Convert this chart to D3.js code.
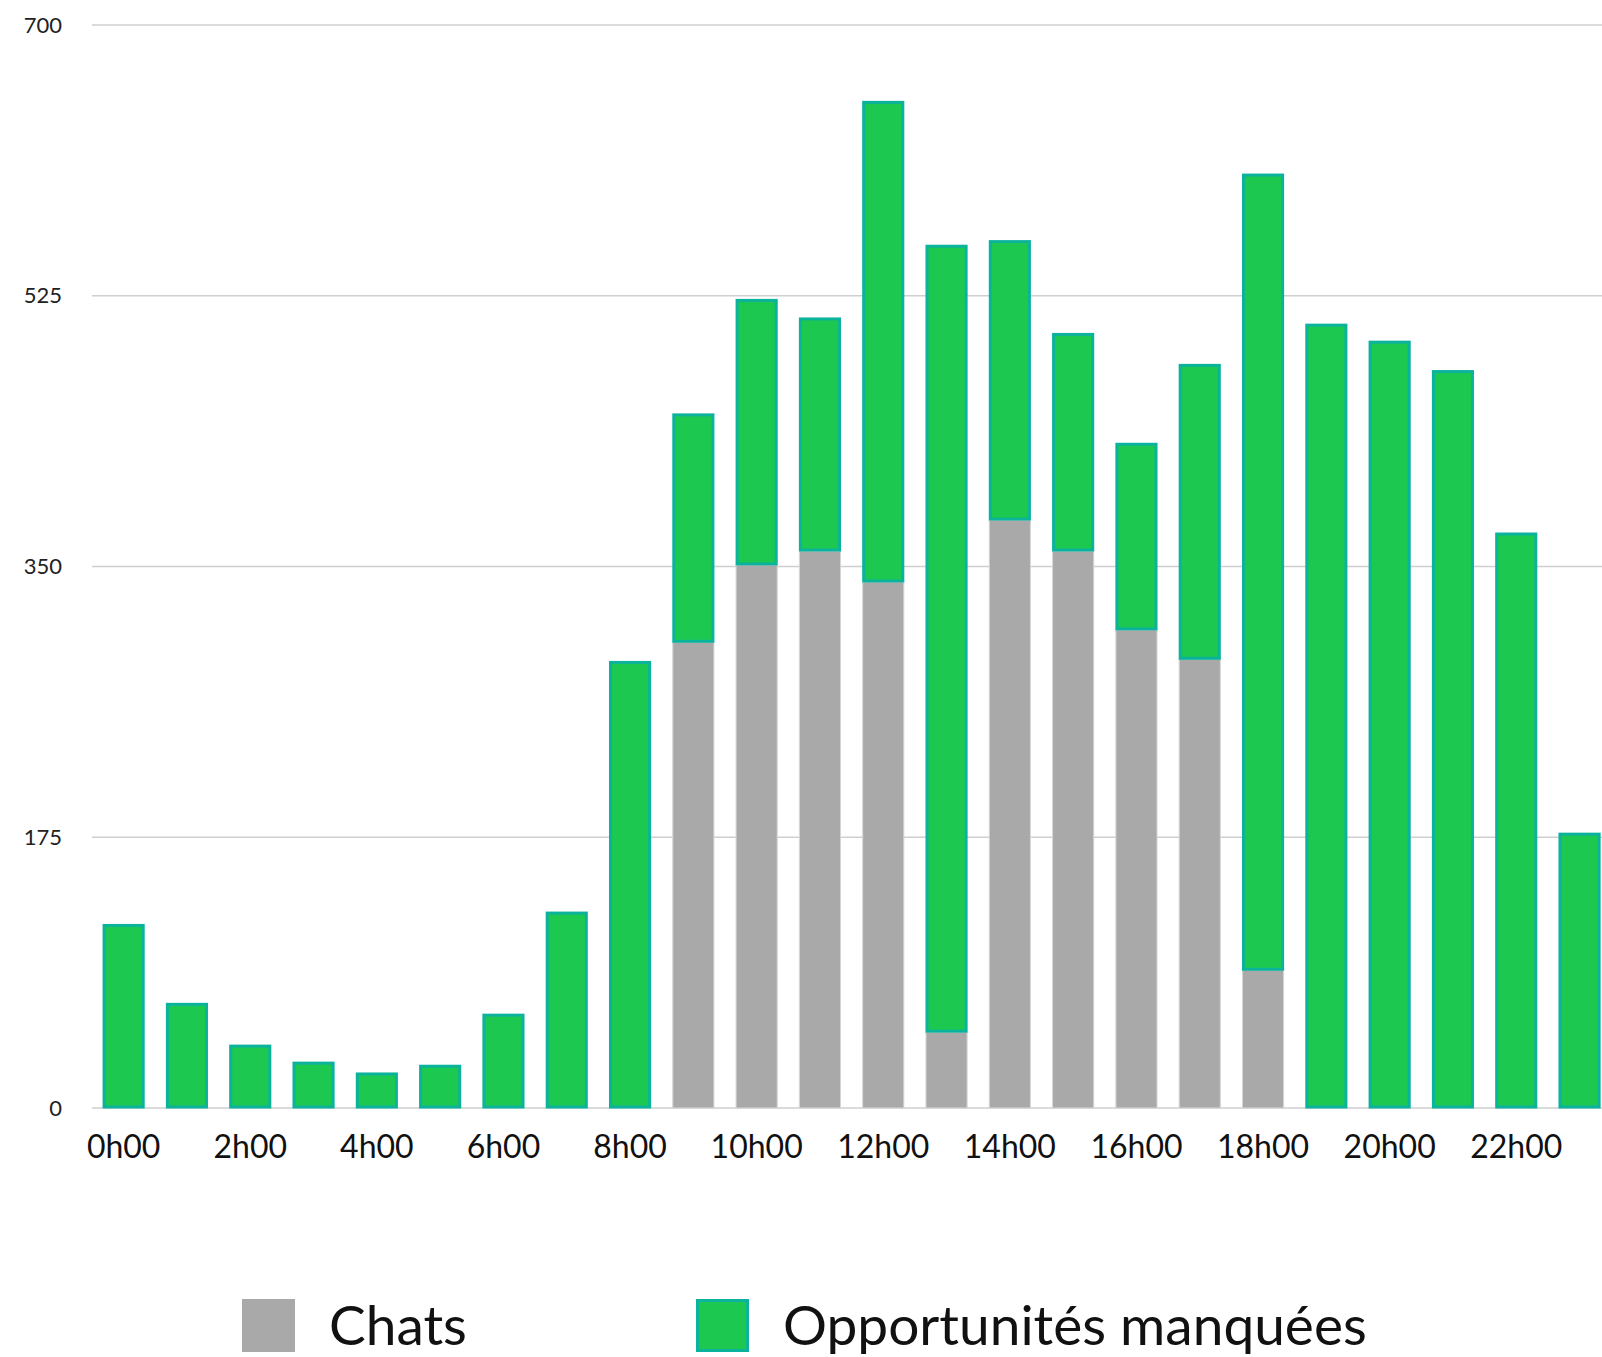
<!doctype html>
<html lang="fr">
<head>
  <meta charset="UTF-8">
  <title>Chats et opportunités manquées</title>
  <script src="https://cdn.jsdelivr.net/npm/d3@7"></script>
  <style>
    body { margin: 0; background: #fff; }
    .grid line { stroke: #cfcfcf; stroke-width: 1.5px; }
    .axis path { display: none; }
    .axis line { display: none; }
    .x.axis text { font-family: Lato, sans-serif; font-size: 32px; fill: #111; }
    .y.axis text { font-family: Lato, sans-serif; font-size: 22px; fill: #222; }
    .legend text { font-family: Lato, sans-serif; font-size: 55px; fill: #111; }
  </style>
</head>
<body>
<script>
  // valeurs
  var hours = ["0h00", "1h00", "2h00", "3h00", "4h00", "5h00", "6h00", "7h00", "8h00", "9h00", "10h00", "11h00",
    "12h00", "13h00", "14h00", "15h00", "16h00", "17h00", "18h00", "19h00", "20h00", "21h00", "22h00", "23h00"];
  var chats = [0, 0, 0, 0, 0, 0, 0, 0, 0, 301, 351, 360, 340, 49, 380, 360, 309, 290, 89, 0, 0, 0, 0, 0];
  var missed = [118, 67, 40, 29, 22, 27, 60, 126, 288, 147, 171, 150, 310, 508, 180, 140, 120, 190, 514, 506, 495, 476, 371, 177];
  var yTicks = [0, 175, 350, 525, 700];
  var seriesNames = ["Chats", "Opportunités manquées"];

  var width = 1602,
    height = 1357;

  var gray = "#a9a9a9",
    green = "#1dc851",
    teal = "#0cb39c";

  var step = 63.3;
  var x = d3.scaleBand()
    .domain(hours)
    .range([92, 92 + 24 * step])
    .paddingInner(0.35)
    .paddingOuter(0.175);

  var y = d3.scaleLinear()
    .domain([0, 700])
    .range([1108, 25]);

  var svg = d3.select("body").append("svg")
    .attr("width", width)
    .attr("height", height);

  // lignes de grille
  svg.append("g")
    .attr("class", "grid")
    .selectAll("line")
    .data(yTicks)
    .enter().append("line")
    .attr("x1", 92)
    .attr("x2", width)
    .attr("y1", function(d) { return y(d); })
    .attr("y2", function(d) { return y(d); });

  var data = hours.map(function(h, i) {
    return { hour: h, chats: chats[i], missed: missed[i] };
  });

  var bars = svg.append("g");

  bars.selectAll("rect.chats")
    .data(data.filter(function(d) { return d.chats > 0; }))
    .enter().append("rect")
    .attr("class", "chats")
    .attr("x", function(d) { return x(d.hour); })
    .attr("width", x.bandwidth())
    .attr("y", function(d) { return y(d.chats); })
    .attr("height", function(d) { return y(0) - y(d.chats); })
    .style("fill", gray)
    .style("stroke", "#d6d6d6")
    .style("stroke-width", 1);

  bars.selectAll("rect.missed")
    .data(data)
    .enter().append("rect")
    .attr("class", "missed")
    .attr("x", function(d) { return x(d.hour) + 1; })
    .attr("width", x.bandwidth() - 2)
    .attr("y", function(d) { return y(d.chats + d.missed); })
    .attr("height", function(d) { return y(d.chats) - y(d.chats + d.missed) - 1; })
    .style("fill", green)
    .style("stroke", teal)
    .style("stroke-width", 3);

  var xAxis = d3.axisBottom(x)
    .tickValues(hours.filter(function(d, i) { return i % 2 === 0; }))
    .tickSize(0)
    .tickPadding(27);

  svg.append("g")
    .attr("class", "x axis")
    .attr("transform", "translate(0," + y(0) + ")")
    .call(xAxis);

  var yAxis = d3.axisLeft(y)
    .tickValues(yTicks)
    .tickSize(0)
    .tickPadding(31);

  svg.append("g")
    .attr("class", "y axis")
    .attr("transform", "translate(93,0)")
    .call(yAxis);

  // légende
  var legend = svg.append("g").attr("class", "legend");
  var legendX = [242, 696];

  legend.selectAll("rect")
    .data(seriesNames)
    .enter().append("rect")
    .attr("x", function(d, i) { return legendX[i] + (i ? 1.5 : 0); })
    .attr("y", function(d, i) { return 1299 + (i ? 1.5 : 0); })
    .attr("width", function(d, i) { return i ? 50 : 53; })
    .attr("height", function(d, i) { return i ? 50 : 53; })
    .style("fill", function(d, i) { return i ? green : gray; })
    .style("stroke", function(d, i) { return i ? teal : "none"; })
    .style("stroke-width", 3);

  legend.selectAll("text")
    .data(seriesNames)
    .enter().append("text")
    .attr("x", function(d, i) { return legendX[i] + 87; })
    .attr("y", 1345)
    .text(function(d) { return d; });
</script>
</body>
</html>
